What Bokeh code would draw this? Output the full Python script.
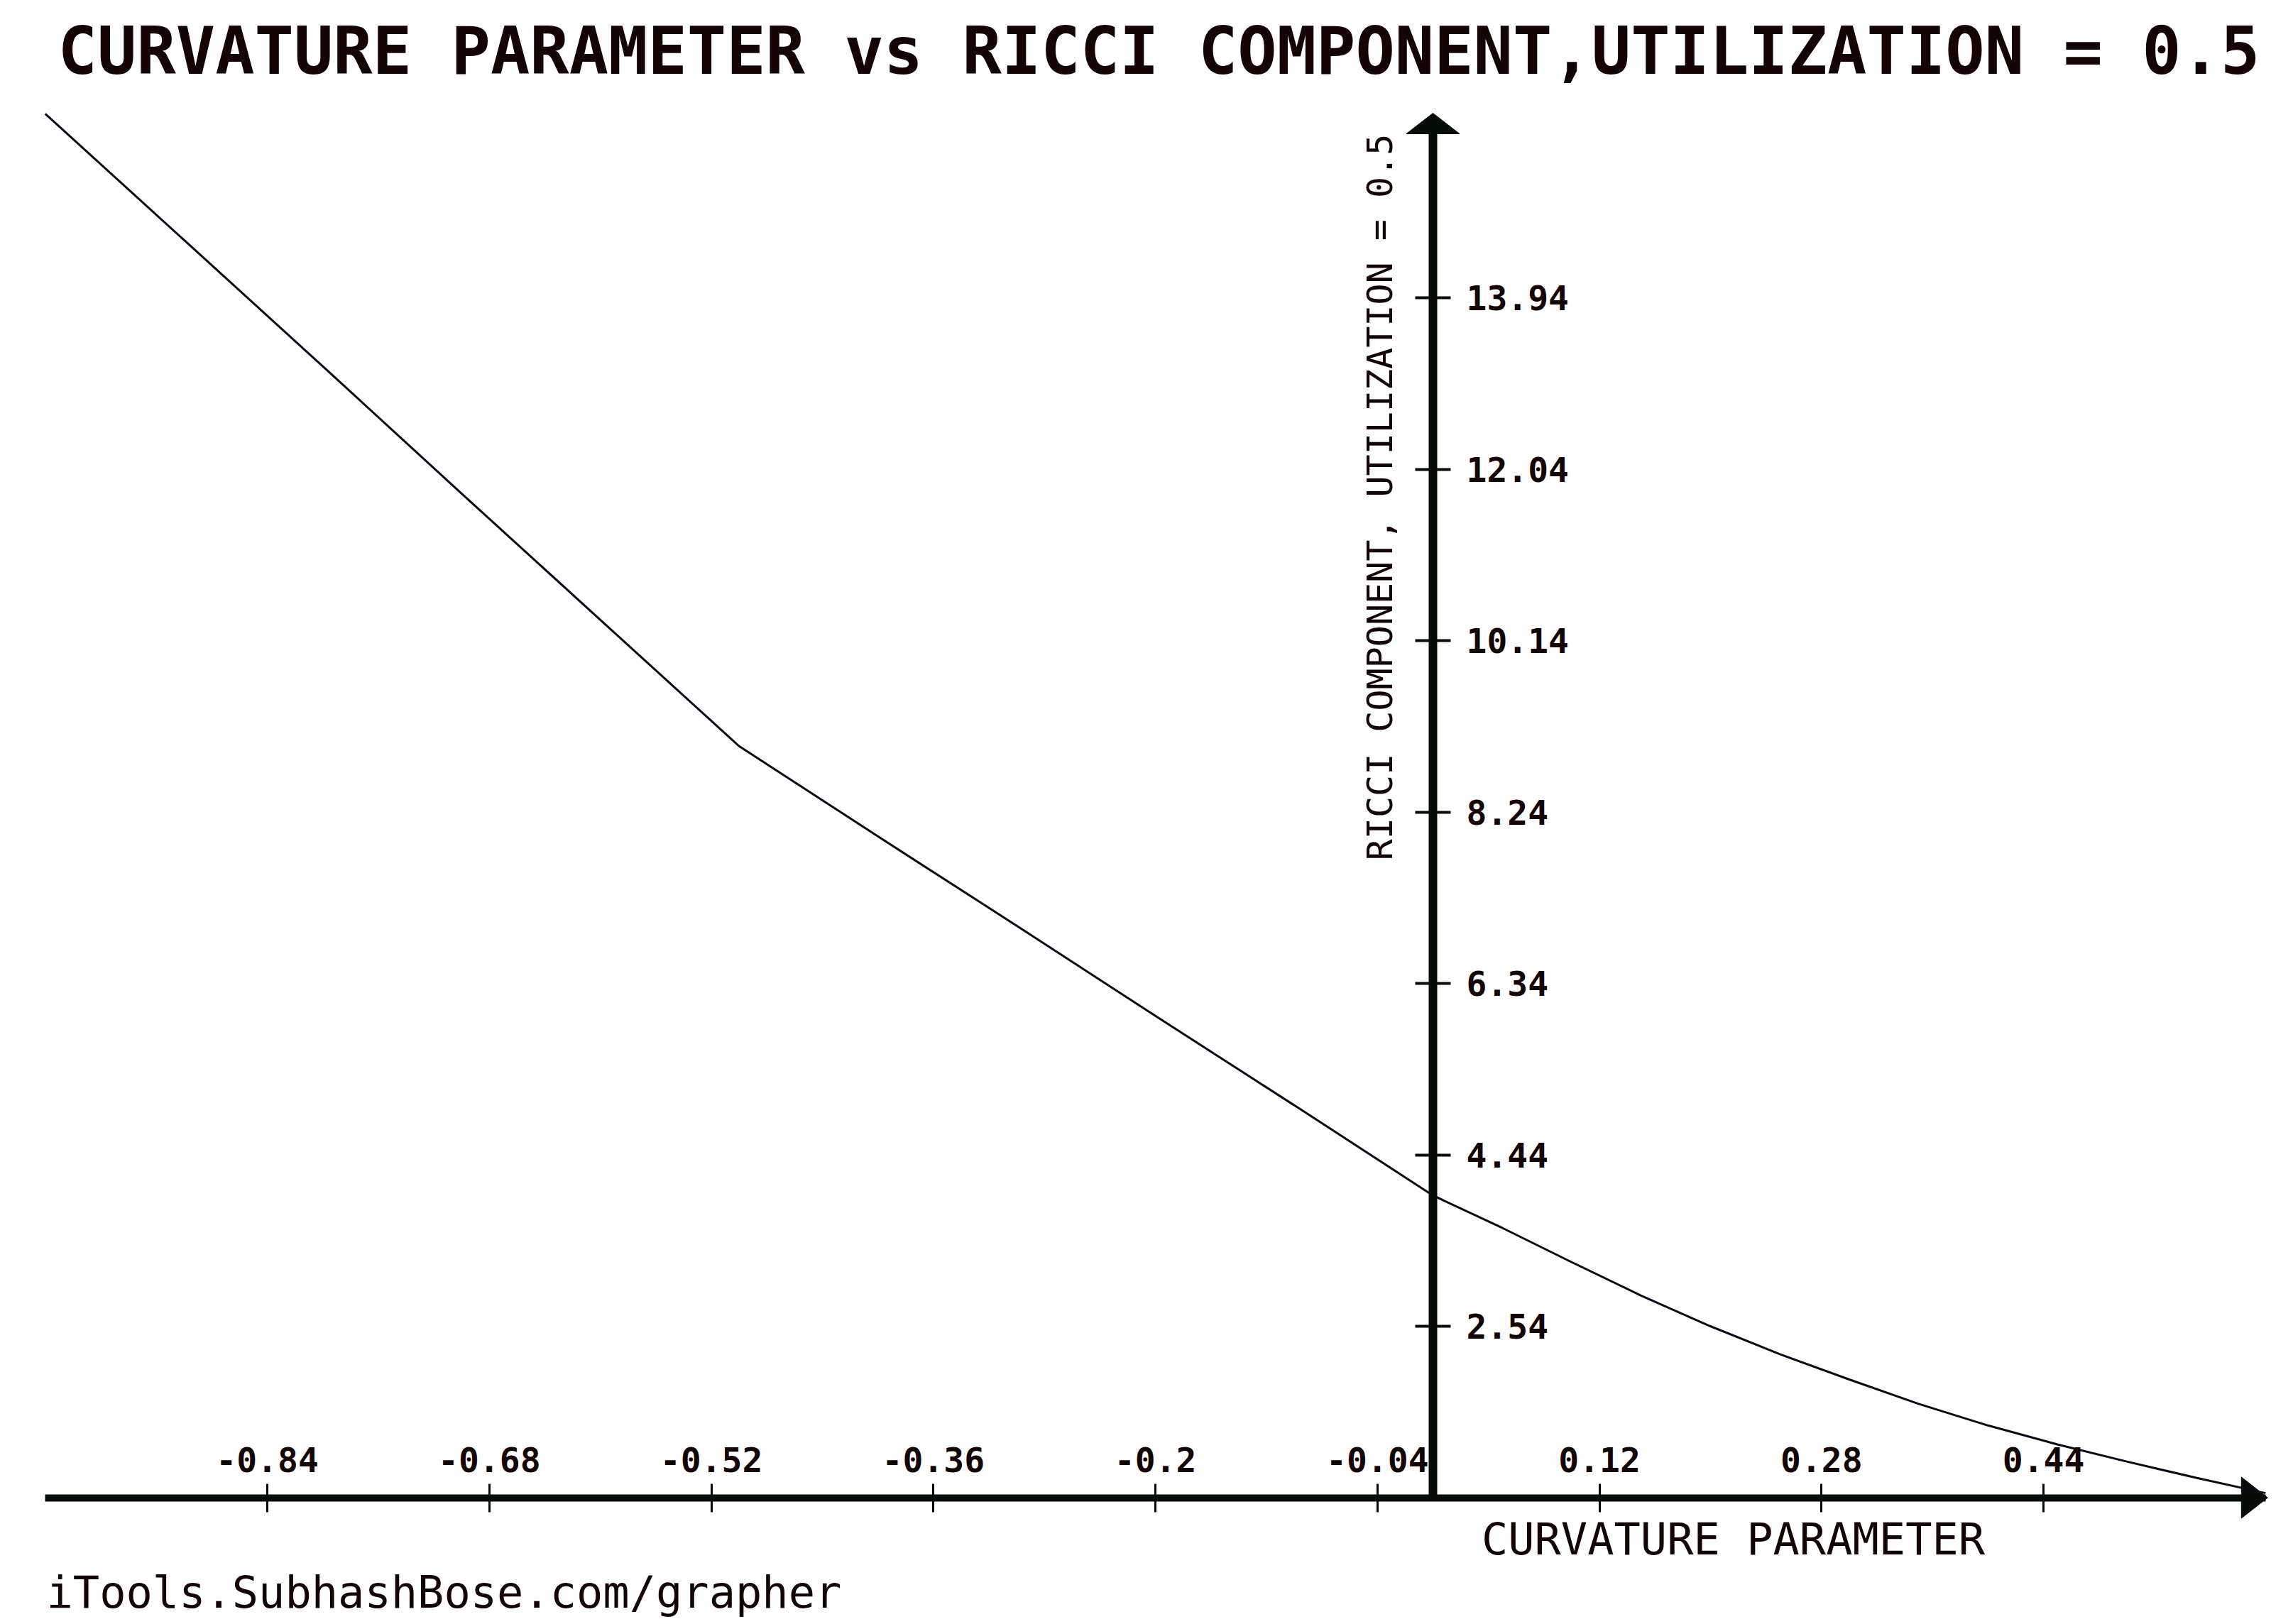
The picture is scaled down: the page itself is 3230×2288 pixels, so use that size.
from math import pi

from bokeh.plotting import figure
from bokeh.models import Range1d, FixedTicker, Label
from bokeh.embed import file_html
from bokeh.resources import INLINE

# ---------------- data ----------------
title_text = "CURVATURE PARAMETER vs RICCI COMPONENT,UTILIZATION = 0.5"
x_title = "CURVATURE PARAMETER"
y_title = "RICCI COMPONENT, UTILIZATION = 0.5"
credit = "iTools.SubhashBose.com/grapher"

curvature = [-1.0, -0.9, -0.8, -0.7, -0.6, -0.5, -0.4, -0.3, -0.2, -0.1, 0.0,
             0.05, 0.1, 0.15, 0.2, 0.25, 0.3, 0.35, 0.4, 0.45, 0.5, 0.55, 0.6]
ricci = [15.98, 14.58, 13.18, 11.77, 10.37, 8.97, 7.97, 6.98, 5.98, 4.99, 3.99,
         3.63, 3.25, 2.88, 2.54, 2.23, 1.95, 1.68, 1.44, 1.23, 1.04, 0.86, 0.69]

x_ticks = [-0.84, -0.68, -0.52, -0.36, -0.2, -0.04, 0.12, 0.28, 0.44]
x_tick_labels = ["-0.84", "-0.68", "-0.52", "-0.36", "-0.2", "-0.04", "0.12", "0.28", "0.44"]
y_ticks = [2.54, 4.44, 6.34, 8.24, 10.14, 12.04, 13.94]
y_tick_labels = ["2.54", "4.44", "6.34", "8.24", "10.14", "12.04", "13.94"]

x_min, x_max = -1.0, 0.6
y_min, y_max = 0.64, 15.98

# ---------------- layout (page pixels) ----------------
W, H = 3230, 2288
MARGIN = 0
X0_PX = 2018.0      # page x of curvature = 0
Y0_PX = 2109.5      # page y of ricci = y_min
PX_PER_X = 1954.7
PX_PER_Y = 127.1

TEXT = "#140404"
AXIS = "#040e07"
LINE = "#0a0a16"
MONO = "DejaVu Sans Mono"


def dx(px):
    return (px - X0_PX) / PX_PER_X


def dy(py):
    return y_min + (Y0_PX - py) / PX_PER_Y


p = figure(width=W, height=H, output_backend="svg", toolbar_location=None,
           x_range=Range1d(dx(MARGIN), dx(MARGIN + W)),
           y_range=Range1d(dy(MARGIN + H), dy(MARGIN)),
           x_axis_location="above", y_axis_location="right",
           min_border=0, outline_line_color=None,
           background_fill_color="white", border_fill_color="white")
p.grid.visible = False

# x axis (crossing at y_min, labels above)
xa = p.xaxis[0]
xa.fixed_location = y_min
xa.bounds = (x_min, x_max)
xa.ticker = FixedTicker(ticks=x_ticks)
xa.major_label_overrides = dict(zip(x_ticks, x_tick_labels))
xa.axis_line_width = 10
xa.axis_line_color = AXIS
xa.major_tick_in = 20
xa.major_tick_out = 20
xa.major_tick_line_width = 3
xa.major_tick_line_color = AXIS
xa.minor_tick_line_color = None
xa.major_label_text_font = MONO
xa.major_label_text_font_style = "bold"
xa.major_label_text_font_size = "48px"
xa.major_label_text_color = TEXT
xa.major_label_standoff = 16

# y axis (crossing at x = 0, labels right)
ya = p.yaxis[0]
ya.fixed_location = 0.0
ya.bounds = (y_min, dy(186))
ya.ticker = FixedTicker(ticks=y_ticks)
ya.major_label_overrides = dict(zip(y_ticks, y_tick_labels))
ya.axis_line_width = 12
ya.axis_line_color = AXIS
ya.major_tick_in = 25
ya.major_tick_out = 25
ya.major_tick_line_width = 4
ya.major_tick_line_color = AXIS
ya.minor_tick_line_color = None
ya.major_label_text_font = MONO
ya.major_label_text_font_style = "bold"
ya.major_label_text_font_size = "48px"
ya.major_label_text_color = TEXT
ya.major_label_standoff = 22

# arrow heads (sizes in px)
AX_LEN, AX_HALF = 37, 29
AY_LEN, AY_HALF = 29, 37.5
x_tip = X0_PX + x_max * PX_PER_X + 3
y_tip = 159
p.patches(
    xs=[[dx(x_tip), dx(x_tip - AX_LEN), dx(x_tip - AX_LEN)],
        [dx(X0_PX - AY_HALF), dx(X0_PX + AY_HALF), dx(X0_PX)]],
    ys=[[y_min, dy(Y0_PX - AX_HALF), dy(Y0_PX + AX_HALF)],
        [dy(y_tip + AY_LEN), dy(y_tip + AY_LEN), dy(y_tip)]],
    fill_color=AXIS, line_color=AXIS, line_width=1)

# the curve
p.line(curvature, ricci, line_width=3, line_color=LINE)

# texts (anchored at the centre of their capitals)
p.add_layout(Label(x=dx(1632), y=dy(72), text=title_text, text_align="center",
                   text_baseline="middle", text_font=MONO, text_font_style="bold",
                   text_font_size="92px", text_color=TEXT))
p.add_layout(Label(x=dx(1943), y=dy(700), text=y_title, angle=pi / 2,
                   text_align="center", text_baseline="middle", text_font=MONO,
                   text_font_size="50px", text_color=TEXT))
p.add_layout(Label(x=dx(2441), y=dy(2168), text=x_title, text_align="center",
                   text_baseline="middle", text_font=MONO,
                   text_font_size="62px", text_color=TEXT))
p.add_layout(Label(x=dx(65), y=dy(2243), text=credit, text_align="left",
                   text_baseline="middle", text_font=MONO,
                   text_font_size="62px", text_color=TEXT))

open("out.html", "w").write(file_html(p, INLINE))
